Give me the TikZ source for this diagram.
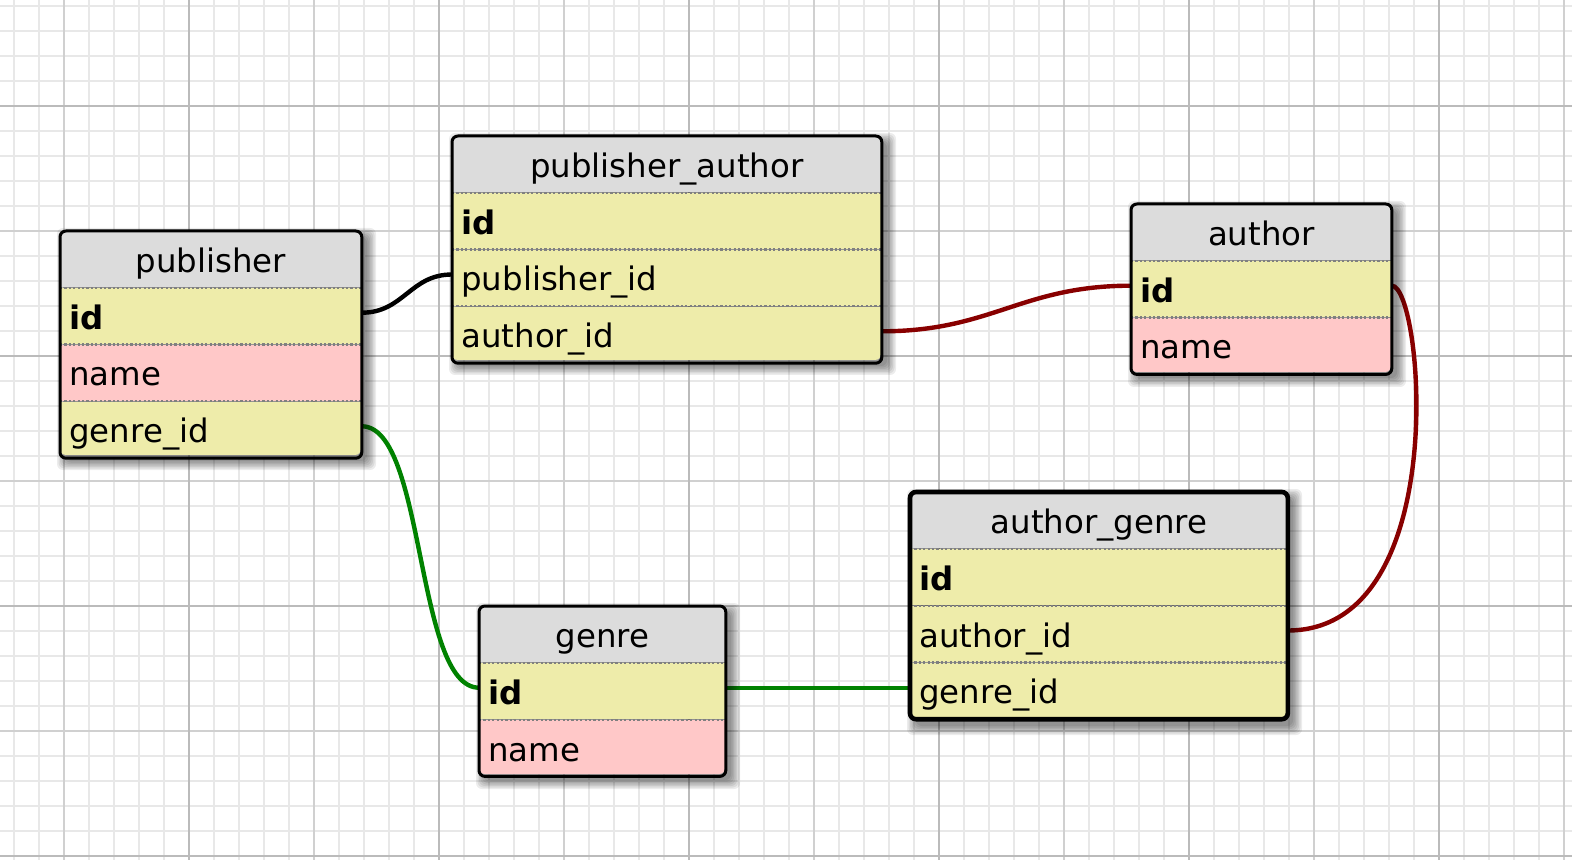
\documentclass[tikz,border=0pt]{standalone}
\usepackage{fontspec}
\setmainfont{DejaVu Sans}
\newcommand\tblfont{\fontsize{16.2}{19}\selectfont}
\definecolor{hdrgray}{HTML}{DCDCDC}
\definecolor{keyyel}{HTML}{EEECAA}
\definecolor{namepink}{HTML}{FFC8C8}
\definecolor{gridminor}{HTML}{E8E8E8}
\definecolor{gridmid}{HTML}{D0D0D0}
\definecolor{gridmajor}{HTML}{BBBBBB}
\definecolor{sepgray}{HTML}{808080}
\definecolor{fkred}{HTML}{880000}
\definecolor{fkgreen}{HTML}{008200}
\pgfdeclarelayer{gridlayer}
\pgfdeclarelayer{connlayer}
\pgfdeclarelayer{shadowlayer}
\pgfsetlayers{gridlayer,connlayer,shadowlayer,main}
\newcommand\softshadow[4]{%
  \foreach \e in {0,1.5,3,4.5,6,7.5,9}{%
    \fill[black, opacity=0.075, rounded corners=3pt] (#1+6-\e,#2+6-\e) rectangle (#3+6+\e,#4+6+\e);
  }}
\tikzset{
  cell/.style={rectangle, inner xsep=4.5pt, inner ysep=0pt, text height=20.5pt, text depth=7.5pt, anchor=north west, font=\tblfont},
  hdr/.style={cell, fill=hdrgray, align=center},
  keyrow/.style={cell, fill=keyyel, align=left},
  namerow/.style={cell, fill=namepink, align=left},
  sepline/.style={draw=sepgray, line width=1.1pt, dash pattern=on 1.1pt off 1.1pt},
  frame/.style={draw=black, line width=1.5pt, rounded corners=3pt},
  thickframe/.style={draw=black, line width=2.3pt, rounded corners=3pt},
  conn/.style={line width=2.2pt, line cap=round},
  minorgrid/.style={draw=gridminor, line width=1pt},
  midgrid/.style={draw=gridmid, line width=1pt},
  majorgrid/.style={draw=gridmajor, line width=1pt},
}
\begin{document}
\begin{tikzpicture}[x=0.5pt,y=-0.5pt]
\useasboundingbox (0,0) rectangle (1572,860);
% grid
\begin{pgfonlayer}{gridlayer}
\fill[white] (0,0) rectangle (1572,860);
\foreach \x in {14,39,...,1564} \draw[minorgrid] (\x,0) -- (\x,860);
\foreach \y in {6,31,...,856} \draw[minorgrid] (0,\y) -- (1572,\y);
\foreach \x in {64,314,...,1564} \draw[midgrid] (\x,0) -- (\x,860);
\foreach \y in {231,481,731} \draw[midgrid] (0,\y) -- (1572,\y);
\foreach \x in {189,439,...,1439} \draw[majorgrid] (\x,0) -- (\x,860);
\foreach \y in {106,356,606,856} \draw[majorgrid] (0,\y) -- (1572,\y);
\end{pgfonlayer}

% shadows
\begin{pgfonlayer}{shadowlayer}
\softshadow{60}{231}{361}{455}
\softshadow{452}{136}{881}{360}
\softshadow{1131}{204}{1391}{372}
\softshadow{910}{492}{1287}{720}
\softshadow{479}{606}{725}{774}
\end{pgfonlayer}

% publisher
\begin{scope}
\clip[rounded corners=3pt] (60,231) rectangle (361,455);
\node[hdr, text width=141.5pt] (pub) at (60,231) {publisher};
\node[keyrow, text width=141.5pt] (pub-id) at (pub.south west) {\textbf{id}};
\node[namerow, text width=141.5pt] (pub-name) at (pub-id.south west) {name};
\node[keyrow, text width=141.5pt] (pub-genre) at (pub-name.south west) {genre\_id};
\draw[sepline] (pub.south west) -- (pub.south east);
\draw[sepline] (pub-id.south west) -- (pub-id.south east);
\draw[sepline] (pub-name.south west) -- (pub-name.south east);
\end{scope}
\draw[frame] (pub.north west) rectangle (pub-genre.south east);

% publisher_author
\begin{scope}
\clip[rounded corners=3pt] (452,136) rectangle (881,360);
\node[hdr, text width=205.5pt] (pa) at (452,136) {publisher\_author};
\node[keyrow, text width=205.5pt] (pa-id) at (pa.south west) {\textbf{id}};
\node[keyrow, text width=205.5pt] (pa-pub) at (pa-id.south west) {publisher\_id};
\node[keyrow, text width=205.5pt] (pa-auth) at (pa-pub.south west) {author\_id};
\draw[sepline] (pa.south west) -- (pa.south east);
\draw[sepline] (pa-id.south west) -- (pa-id.south east);
\draw[sepline] (pa-pub.south west) -- (pa-pub.south east);
\end{scope}
\draw[frame] (pa.north west) rectangle (pa-auth.south east);

% author
\begin{scope}
\clip[rounded corners=3pt] (1131,204) rectangle (1391,372);
\node[hdr, text width=121pt] (au) at (1131,204) {author};
\node[keyrow, text width=121pt] (au-id) at (au.south west) {\textbf{id}};
\node[namerow, text width=121pt] (au-name) at (au-id.south west) {name};
\draw[sepline] (au.south west) -- (au.south east);
\draw[sepline] (au-id.south west) -- (au-id.south east);
\end{scope}
\draw[frame] (au.north west) rectangle (au-name.south east);

% author_genre
\begin{scope}[every node/.append style={text depth=8pt}]
\clip[rounded corners=3pt] (910,492) rectangle (1287,720);
\node[hdr, text width=179.5pt] (ag) at (910,492) {author\_genre};
\node[keyrow, text width=179.5pt] (ag-id) at (ag.south west) {\textbf{id}};
\node[keyrow, text width=179.5pt] (ag-auth) at (ag-id.south west) {author\_id};
\node[keyrow, text width=179.5pt] (ag-genre) at (ag-auth.south west) {genre\_id};
\draw[sepline] (ag.south west) -- (ag.south east);
\draw[sepline] (ag-id.south west) -- (ag-id.south east);
\draw[sepline] (ag-auth.south west) -- (ag-auth.south east);
\end{scope}
\draw[thickframe] (ag.north west) rectangle (ag-genre.south east);

% genre
\begin{scope}
\clip[rounded corners=3pt] (479,606) rectangle (725,774);
\node[hdr, text width=114pt] (ge) at (479,606) {genre};
\node[keyrow, text width=114pt] (ge-id) at (ge.south west) {\textbf{id}};
\node[namerow, text width=114pt] (ge-name) at (ge-id.south west) {name};
\draw[sepline] (ge.south west) -- (ge.south east);
\draw[sepline] (ge-id.south west) -- (ge-id.south east);
\end{scope}
\draw[frame] (ge.north west) rectangle (ge-name.south east);

% connectors
\begin{pgfonlayer}{connlayer}
\draw[conn, black] ([yshift=1.75pt]pub-id.east) .. controls +(42,0) and +(-42,0) .. ([yshift=1.75pt]pa-pub.west);
\draw[conn, fkred] ([yshift=1.75pt]pa-auth.east) .. controls +(110,0) and +(-110,0) .. ([yshift=1.75pt]au-id.west);
\draw[conn, fkred] ([yshift=1.75pt]au-id.east) .. controls +(31,0) and +(166,0) .. ([yshift=1.75pt]ag-auth.east);
\draw[conn, fkgreen] ([yshift=1.75pt]pub-genre.east) .. controls +(64,0) and +(-64,0) .. ([yshift=1.75pt]ge-id.west);
\draw[conn, fkgreen] ([yshift=1.75pt]ge-id.east) -- ([yshift=1.75pt]ge-id.east -| ag-genre.west);
\end{pgfonlayer}
\end{tikzpicture}
\end{document}
